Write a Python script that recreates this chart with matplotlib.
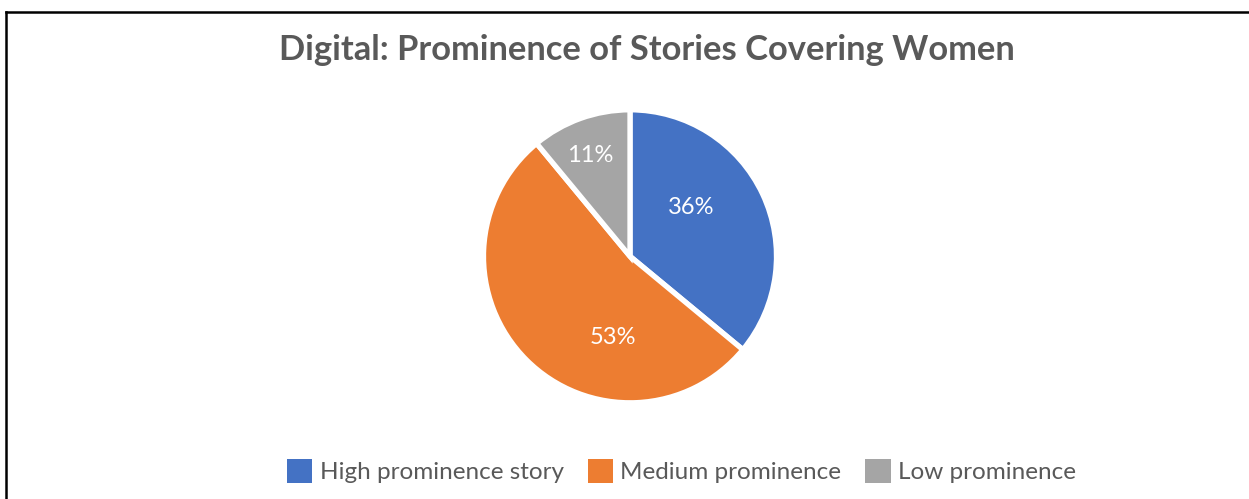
import matplotlib
matplotlib.use("Agg")
import matplotlib.pyplot as plt
from matplotlib.lines import Line2D

# Share of digital stories covering women, by prominence
categories = ["High prominence story", "Medium prominence", "Low prominence"]
shares = [36, 53, 11]
colors = ["#4472C4", "#ED7D31", "#A5A5A5"]
title = "Digital: Prominence of Stories Covering Women"

# percentage label placement (radius-1 pie coordinates)
label_pos = [(0.42, 0.33), (-0.117, -0.555), (-0.275, 0.69)]

plt.rcParams["font.family"] = ["Lato", "DejaVu Sans"]
text_gray = "#595959"

W, H, DPI = 1249, 499, 100
fig = plt.figure(figsize=(W / DPI, H / DPI), dpi=DPI)

cx, cy, r = 630, 256.3, 146.5
ax = fig.add_axes([(cx - r) / W, (H - cy - r) / H, 2 * r / W, 2 * r / H])
wedges, texts, autotexts = ax.pie(
    shares,
    colors=colors,
    startangle=90,
    counterclock=False,
    autopct=lambda p: f"{round(p)}%",
    wedgeprops=dict(edgecolor="white", linewidth=3.8),
    textprops=dict(color="white", fontsize=17),
)
for t, p in zip(autotexts, label_pos):
    t.set_position(p)
    t.set_ha("center")
    t.set_va("center")
ax.set_xlim(-1, 1)
ax.set_ylim(-1, 1)
ax.set_aspect("equal")

fig.text(0.5176, 1 - 50 / H, title, ha="center", va="center",
         fontsize=24.8, fontweight="bold", color=text_gray)

leg = fig.legend(
    wedges, categories, loc="center", bbox_to_anchor=(681.5 / W, 1 - 471 / H),
    ncol=3, frameon=False, fontsize=17.5, handlelength=1.03, handleheight=1.15,
    handletextpad=0.3, columnspacing=1.0, borderpad=0, borderaxespad=0,
)
for t in leg.get_texts():
    t.set_color(text_gray)
for h in leg.legend_handles:
    h.set_linewidth(0)

# chart border (left and top edges)
lw = 1.8
x0 = 5.5 / W
y0 = 1 - 12 / H
fig.add_artist(Line2D([x0, x0], [0, y0], transform=fig.transFigure,
                      color="black", linewidth=lw))
fig.add_artist(Line2D([x0, 1], [y0, y0], transform=fig.transFigure,
                      color="black", linewidth=lw))

fig.savefig("out.png", dpi=DPI)
